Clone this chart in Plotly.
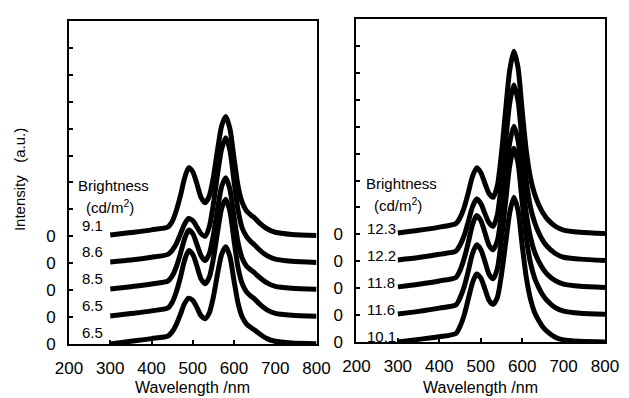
import plotly.graph_objects as go

# Wavelength grid shared by every spectrum (nm)
wavelength = [300, 350, 400, 440, 450, 460, 470, 480, 490, 500, 510, 520, 530, 540, 550,
              560, 570, 580, 590, 600, 610, 620, 630, 640, 650, 660, 680, 700, 740, 800]

# Left device: spectra (a.u.) listed bottom to top, with brightness labels
left_brightness = ["6.5", "6.5", "8.5", "8.6", "9.1"]
left_offsets = [0, 1, 2, 3, 4]
left_l0 = [0.0, 0.1, 0.2, 0.3, 0.45, 0.72, 1.1, 1.5, 1.7, 1.62, 1.36, 1.05, 0.94, 1.15, 1.75,
           2.6, 3.33, 3.61, 3.25, 2.35, 1.5, 1.0, 0.75, 0.62, 0.52, 0.4, 0.2, 0.1, 0.04, 0.01]
left_l1 = [0.04, 0.13, 0.23, 0.34, 0.54, 0.93, 1.47, 2.1, 2.47, 2.33, 1.9, 1.42, 1.24, 1.48, 2.17,
           3.15, 4.03, 4.38, 3.93, 2.85, 1.82, 1.23, 0.94, 0.79, 0.67, 0.51, 0.27, 0.14, 0.07, 0.03]
left_l2 = [0.04, 0.13, 0.23, 0.34, 0.52, 0.86, 1.35, 1.9, 2.23, 2.1, 1.7, 1.28, 1.1, 1.35, 2.05,
           3.0, 3.85, 4.18, 3.75, 2.72, 1.75, 1.18, 0.9, 0.76, 0.64, 0.5, 0.27, 0.14, 0.07, 0.03]
left_l3 = [0.05, 0.12, 0.22, 0.33, 0.48, 0.72, 1.08, 1.45, 1.66, 1.58, 1.35, 1.1, 1.0, 1.35, 2.2,
           3.3, 4.25, 4.66, 4.2, 3.05, 1.95, 1.3, 1.0, 0.82, 0.68, 0.52, 0.28, 0.15, 0.07, 0.03]
left_l4 = [0.05, 0.14, 0.24, 0.35, 0.55, 0.95, 1.5, 2.15, 2.55, 2.4, 1.95, 1.45, 1.25, 1.5, 2.2,
           3.2, 4.1, 4.45, 4.0, 2.9, 1.85, 1.25, 0.95, 0.8, 0.68, 0.52, 0.28, 0.15, 0.07, 0.03]

# Right device
right_brightness = ["10.1", "11.6", "11.8", "12.2", "12.3"]
right_offsets = [0, 1, 2, 3, 4]
right_r0 = [0.0, 0.1, 0.2, 0.32, 0.58, 1.0, 1.6, 2.2, 2.53, 2.38, 1.98, 1.55, 1.4, 1.65, 2.5,
            3.65, 4.8, 5.38, 4.9, 3.6, 2.4, 1.6, 1.1, 0.8, 0.56, 0.4, 0.18, 0.08, 0.03, 0.0]
right_r1 = [0.04, 0.14, 0.26, 0.38, 0.64, 1.05, 1.64, 2.28, 2.61, 2.44, 2.0, 1.52, 1.35, 1.72, 2.8,
            4.2, 5.55, 6.2, 5.65, 4.2, 2.85, 1.95, 1.38, 1.02, 0.74, 0.54, 0.28, 0.15, 0.07, 0.03]
right_r2 = [0.05, 0.15, 0.27, 0.4, 0.66, 1.1, 1.7, 2.35, 2.7, 2.52, 2.07, 1.6, 1.43, 1.75, 2.75,
            4.1, 5.4, 6.02, 5.5, 4.1, 2.78, 1.9, 1.35, 1.0, 0.73, 0.53, 0.28, 0.15, 0.07, 0.03]
right_r3 = [0.05, 0.14, 0.26, 0.38, 0.6, 0.95, 1.47, 2.02, 2.31, 2.15, 1.78, 1.43, 1.3, 1.72, 2.9,
            4.43, 5.88, 6.55, 5.97, 4.43, 2.98, 2.02, 1.45, 1.06, 0.77, 0.56, 0.29, 0.15, 0.08, 0.03]
right_r4 = [0.05, 0.15, 0.27, 0.4, 0.62, 1.0, 1.55, 2.15, 2.47, 2.3, 1.9, 1.52, 1.38, 1.8, 3.0,
            4.6, 6.1, 6.8, 6.2, 4.6, 3.1, 2.1, 1.5, 1.1, 0.8, 0.58, 0.3, 0.16, 0.08, 0.03]

left_spectra = [left_l0, left_l1, left_l2, left_l3, left_l4]
right_spectra = [right_r0, right_r1, right_r2, right_r3, right_r4]

x_ticks = [200, 300, 400, 500, 600, 700, 800]
y_ticks = list(range(0, 13))
y_ticktext = ["0", "0", "0", "0", "0"] + [" "] * 8

FONT = "Liberation Sans, Arial, sans-serif"

fig = go.Figure()

panels = [
    (left_spectra, left_offsets, "x", "y"),
    (right_spectra, right_offsets, "x2", "y2"),
]
for spectra, offsets, xa, ya in panels:
    for spec, off in zip(spectra, offsets):
        fig.add_trace(go.Scatter(
            x=wavelength, y=[v + off for v in spec],
            mode="lines", line=dict(color="black", width=5, shape="spline", smoothing=0.7),
            xaxis=xa, yaxis=ya, showlegend=False, hoverinfo="skip"))

axis_common = dict(
    range=[200, 800], tickvals=x_ticks, ticks="inside", ticklen=4, tickwidth=1.5,
    tickcolor="black", showline=True, linecolor="black", linewidth=2, mirror=True,
    showgrid=False, zeroline=False, ticklabelstandoff=8,
    tickfont=dict(family=FONT, size=17, color="black"))
yaxis_common = dict(
    range=[0, 12], tickvals=y_ticks, ticktext=y_ticktext, ticks="inside", ticklen=4,
    tickwidth=1.5, tickcolor="black", showline=True, linecolor="black", linewidth=2,
    mirror=True, showgrid=False, zeroline=False, ticklabelstandoff=8,
    tickfont=dict(family=FONT, size=17, color="black"))

fig.update_layout(
    width=629, height=398,
    margin=dict(l=69, r=23, t=10, b=54),
    paper_bgcolor="white", plot_bgcolor="white",
    xaxis=dict(domain=[0, 0.4618], anchor="y", **axis_common),
    xaxis2=dict(domain=[0.5363, 1], anchor="y2", **axis_common),
    yaxis=dict(domain=[0, 0.994], anchor="x", **yaxis_common),
    yaxis2=dict(domain=[0.006, 1], anchor="x2", **yaxis_common),
)

annotations = []
# Axis titles
for xc in [0.2309, 0.7681]:
    annotations.append(dict(text="Wavelength /nm", x=xc, y=-0.1347, xref="paper", yref="paper",
                            showarrow=False, xanchor="center", yanchor="middle",
                            font=dict(family=FONT, size=16, color="black")))
annotations.append(dict(text="Intensity\u00a0\u00a0\u00a0(a.u.)", x=-0.091, y=0.505,
                        xref="paper", yref="paper", textangle=-90, showarrow=False,
                        xanchor="center", yanchor="middle",
                        font=dict(family=FONT, size=15, color="black")))

# Brightness headers and per-curve labels
for xa, ya, labels, offsets, lx, ly in [("x", "y", left_brightness, left_offsets, 258, 0.42),
                                        ("x2", "y2", right_brightness, right_offsets, 260, 0.2)]:
    annotations.append(dict(text="Brightness", x=218, y=5.9, xref=xa, yref=ya,
                            showarrow=False, xanchor="left", yanchor="middle",
                            font=dict(family=FONT, size=15, color="black")))
    annotations.append(dict(text="(cd/m<sup>2</sup>)", x=300, y=5.12, xref=xa, yref=ya,
                            showarrow=False, xanchor="center", yanchor="middle",
                            font=dict(family=FONT, size=15, color="black")))
    for lab, off in zip(labels, offsets):
        annotations.append(dict(text=lab, x=lx, y=off + ly, xref=xa, yref=ya,
                                showarrow=False, xanchor="center", yanchor="middle",
                                font=dict(family=FONT, size=15, color="black")))

fig.update_layout(annotations=annotations)

fig.write_html("out.html")
